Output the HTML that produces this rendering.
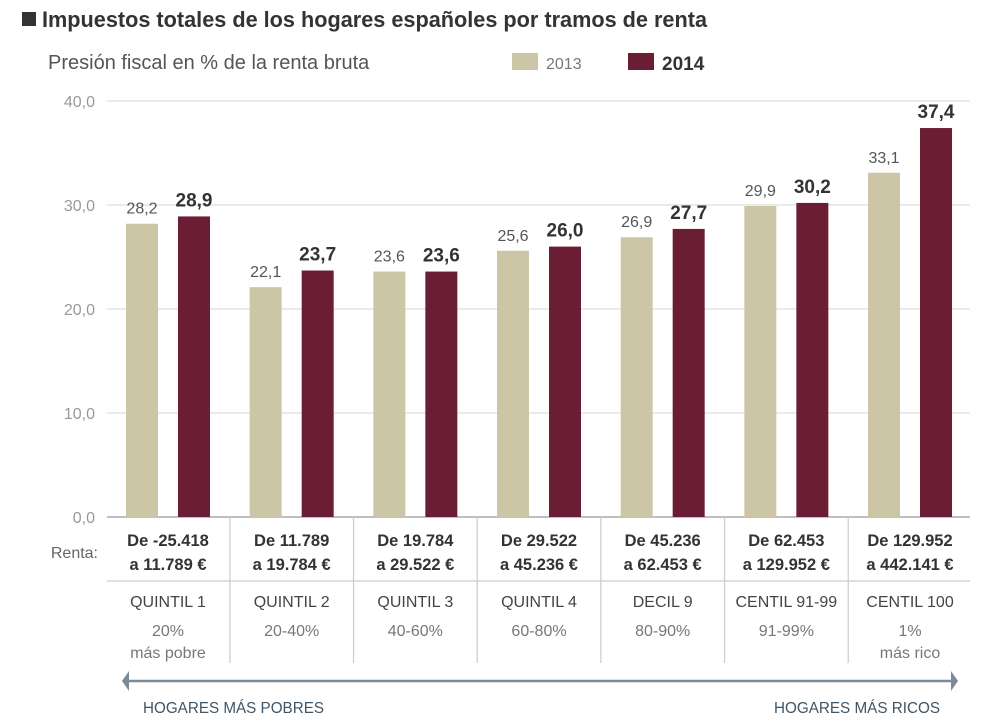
<!DOCTYPE html>
<html><head><meta charset="utf-8">
<style>
body{margin:0;background:#fff;width:1000px;height:722px;overflow:hidden}
svg{display:block}
.n{font-family:"Liberation Sans Narrow","Liberation Sans",sans-serif}
.s{font-family:"Liberation Sans",sans-serif}
</style></head><body>
<svg id="chart" width="1000" height="722">
<rect x="22" y="12" width="14" height="14" fill="#333"/>
<text x="42" y="27" class="n" font-size="22" font-weight="bold" fill="#333" textLength="665" lengthAdjust="spacingAndGlyphs">Impuestos totales de los hogares españoles por tramos de renta</text>
<text x="48" y="69" class="s" font-size="20" fill="#555">Presión fiscal en % de la renta bruta</text>
<g>
<rect x="512" y="53" width="26" height="17" fill="#cdc6a6"/>
<text x="546" y="69" class="s" font-size="16" fill="#777">2013</text>
<rect x="628" y="53" width="26" height="17" fill="#6a1d33"/>
<text x="662" y="70" class="n" font-size="19" font-weight="bold" fill="#333">2014</text>
</g>
<g id="grid"></g><g id="bars"></g><g id="table"></g>
</svg>
<script>
const categories=["QUINTIL 1","QUINTIL 2","QUINTIL 3","QUINTIL 4","DECIL 9","CENTIL 91-99","CENTIL 100"];
const values2013=[28.2,22.1,23.6,25.6,26.9,29.9,33.1];
const values2014=[28.9,23.7,23.6,26.0,27.7,30.2,37.4];
const yTicks=[0,10,20,30,40];
const rentaLine1=["De -25.418","De 11.789","De 19.784","De 29.522","De 45.236","De 62.453","De 129.952"];
const rentaLine2=["a 11.789 €","a 19.784 €","a 29.522 €","a 45.236 €","a 62.453 €","a 129.952 €","a 442.141 €"];
const pctLine1=["20%","20-40%","40-60%","60-80%","80-90%","91-99%","1%"];
const pctLine2=["más pobre","","","","","","más rico"];
const NS="http://www.w3.org/2000/svg";
const y0=517,yTop=101,maxV=40;
const y=v=>y0-(v/maxV)*(y0-yTop);
const gx=i=>168+i*123.67;
function mk(tag,attrs,parent,txt){const e=document.createElementNS(NS,tag);for(const k in attrs)e.setAttribute(k,attrs[k]);if(txt!==undefined)e.textContent=txt;parent.appendChild(e);return e;}
const grid=document.getElementById('grid'),bars=document.getElementById('bars'),tbl=document.getElementById('table');
yTicks.forEach(t=>{
 const l=mk('line',{x1:107,x2:970,y1:y(t),y2:y(t),stroke:t===0?'#aaa':'#ddd','stroke-width':t===0?1.5:1.2},grid);
 
 
 const tx=mk('text',{x:95,y:y(t)+6,'text-anchor':'end',class:'n','font-size':16,fill:'#999'},grid,t.toFixed(1).replace('.',','));
 
 
});
categories.forEach((c,i)=>{
 const cx=gx(i);
 const b1=mk('rect',{x:cx-42,y:y(values2013[i]),width:32,height:y0-y(values2013[i]),fill:'#cdc6a6'},bars);
 
 
 const b2=mk('rect',{x:cx+10,y:y(values2014[i]),width:32,height:y0-y(values2014[i]),fill:'#6a1d33'},bars);
 
 
 const l1=mk('text',{x:cx-26,y:y(values2013[i])-10,'text-anchor':'middle',class:'n','font-size':16,fill:'#555'},bars,values2013[i].toFixed(1).replace('.',','));
 
 
 const l2=mk('text',{x:cx+26,y:y(values2014[i])-10,'text-anchor':'middle',class:'n','font-size':19,'font-weight':'bold',fill:'#333'},bars,values2014[i].toFixed(1).replace('.',','));
 
 
 const r1=mk('text',{x:cx,y:546,'text-anchor':'middle',class:'n','font-size':16.5,'font-weight':'bold',fill:'#333'},tbl,rentaLine1[i]);
 
 
 const r2=mk('text',{x:cx,y:570,'text-anchor':'middle',class:'n','font-size':16.5,'font-weight':'bold',fill:'#333'},tbl,rentaLine2[i]);
 
 
 const q=mk('text',{x:cx,y:607,'text-anchor':'middle',class:'n','font-size':16,fill:'#444'},tbl,c);
 
 
 const p1=mk('text',{x:cx,y:636,'text-anchor':'middle',class:'n','font-size':16,fill:'#777'},tbl,pctLine1[i]);
 
 
 if(pctLine2[i]){const p2=mk('text',{x:cx,y:658,'text-anchor':'middle',class:'n','font-size':16,fill:'#777'},tbl,pctLine2[i]);
 
 }
 if(i>0){const s=mk('line',{x1:cx-61.8,x2:cx-61.8,y1:517,y2:663,stroke:'#ccc','stroke-width':1.2},tbl);
 
 }
});
const rl=mk('text',{x:98,y:558,'text-anchor':'end',class:'n','font-size':16,fill:'#666'},tbl,'Renta:');


const hd=mk('line',{x1:107,x2:970,y1:581,y2:581,stroke:'#ccc','stroke-width':1.2},tbl);


const ar=mk('line',{x1:126,x2:954,y1:681,y2:681,stroke:'#7b8a96','stroke-width':2.5},tbl);


const ah1=mk('polygon',{points:'122,681 129,671 129,691',fill:'#7b8a96'},tbl);


const ah2=mk('polygon',{points:'958,681 951,671 951,691',fill:'#7b8a96'},tbl);


const hp=mk('text',{x:143,y:713,class:'n','font-size':16,fill:'#3f5566',textLength:181,lengthAdjust:'spacingAndGlyphs'},tbl,'HOGARES MÁS POBRES');


const hr=mk('text',{x:774,y:713,class:'n','font-size':16,fill:'#3f5566',textLength:166,lengthAdjust:'spacingAndGlyphs'},tbl,'HOGARES MÁS RICOS');


</script>
</body></html>
